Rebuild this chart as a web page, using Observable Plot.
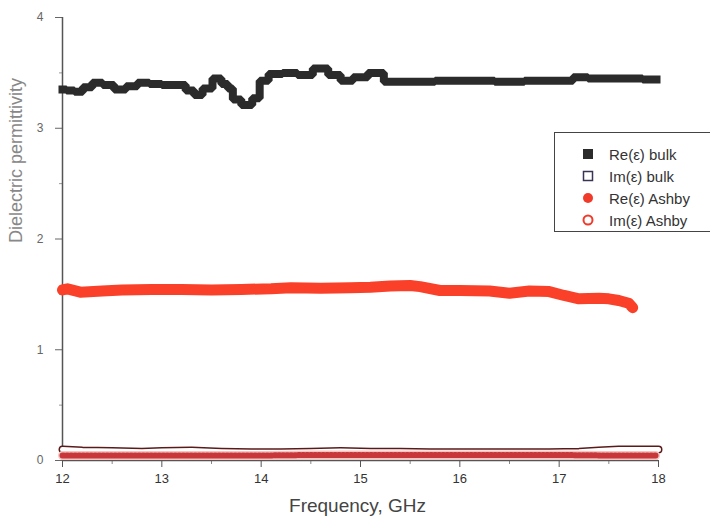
<!DOCTYPE html>
<html>
<head>
<meta charset="utf-8">
<script src="https://cdn.jsdelivr.net/npm/d3@7"></script>
<script src="https://cdn.jsdelivr.net/npm/@observablehq/plot@0.6"></script>
<style>
  html, body { margin: 0; padding: 0; background: #fff; overflow: hidden; }
  #wrap { position: relative; width: 710px; height: 524px; font-family: "Liberation Sans", Arial, sans-serif; overflow: hidden; }
  #legend { position: absolute; left: 554px; top: 132px; width: 156px; height: 100px; border: 1px solid #444; border-right: none; background: #fff; box-sizing: border-box; }
  .item { position: absolute; left: 26px; height: 18px; display: flex; align-items: center; font-size: 15px; color: #333; white-space: nowrap; }
  .item svg { margin-right: 14px; }
</style>
</head>
<body>
<div id="wrap"><div id="chart"></div><div id="legend"></div></div>
<script>
// Re(ε) bulk
const reBulkF = [12.00,12.08,12.16,12.25,12.35,12.46,12.58,12.70,12.81,12.94,13.06,13.19,13.29,13.36,13.46,13.56,13.64,13.69,13.74,13.86,13.96,14.01,14.14,14.29,14.44,14.60,14.75,14.85,15.00,15.15,15.32,15.60,15.90,16.20,16.50,16.80,17.10,17.18,17.40,17.70,17.98];
const reBulkV = [3.35,3.34,3.33,3.37,3.41,3.39,3.35,3.38,3.41,3.40,3.39,3.39,3.34,3.30,3.36,3.45,3.40,3.36,3.26,3.21,3.27,3.43,3.49,3.50,3.48,3.54,3.48,3.43,3.46,3.50,3.42,3.42,3.43,3.43,3.42,3.43,3.43,3.46,3.45,3.45,3.44];
// Re(ε) Ashby
const reAshF = [12.00,12.05,12.18,12.40,12.60,12.90,13.20,13.50,13.80,14.10,14.30,14.60,14.90,15.10,15.30,15.50,15.60,15.80,16.00,16.30,16.50,16.70,16.90,17.05,17.20,17.40,17.50,17.60,17.70,17.74];
const reAshV = [1.54,1.55,1.52,1.53,1.54,1.545,1.545,1.54,1.545,1.55,1.56,1.555,1.56,1.565,1.575,1.58,1.57,1.535,1.535,1.53,1.51,1.53,1.525,1.49,1.46,1.465,1.46,1.445,1.42,1.38];
// Im(ε) bulk
const imBulkF = [12.00,12.20,12.50,12.80,13.00,13.30,13.60,13.90,14.20,14.50,14.80,15.10,15.40,15.70,16.00,16.30,16.60,16.90,17.20,17.40,17.60,17.80,18.00];
const imBulkV = [0.10,0.09,0.085,0.08,0.085,0.09,0.08,0.075,0.075,0.08,0.085,0.08,0.08,0.075,0.075,0.075,0.075,0.075,0.08,0.09,0.10,0.10,0.10];
// Im(ε) Ashby
const imAshF = [12.00,12.50,13.00,13.50,14.00,14.50,15.00,15.50,16.00,16.50,17.00,17.50,17.97];
const imAshV = [0.045,0.045,0.045,0.045,0.045,0.05,0.05,0.05,0.05,0.05,0.05,0.045,0.045];

const xTicks = [12,13,14,15,16,17,18];
const xMinor = [12.5,13.5,14.5,15.5,16.5,17.5];
const yTicks = [0,1,2,3,4];
const yMinor = [0.5,1.5,2.5,3.5];

const zip = (F, V) => F.map((f, i) => ({f, v: V[i]}));
const reBulk = zip(reBulkF, reBulkV);
const reAsh = zip(reAshF, reAshV);
const imBulk = zip(imBulkF, imBulkV);
const imAsh = zip(imAshF, imAshV);

const chart = Plot.plot({
  width: 710, height: 524,
  marginLeft: 62, marginRight: 52, marginTop: 17, marginBottom: 64,
  style: {fontFamily: "Liberation Sans, Arial, sans-serif", background: "#fff"},
  x: {domain: [12, 18]},
  y: {domain: [0, 4]},
  marks: [
    Plot.axisX(xTicks, {tickSize: 7, tickPadding: 6, fontSize: 13, color: "#333", stroke: "#555", tickFormat: "d", label: null}),
    Plot.axisX(xMinor, {tickSize: 4, tickFormat: () => "", stroke: "#888", label: null}),
    Plot.axisY(yTicks, {tickSize: 7, tickPadding: 12, fontSize: 12, color: "#666", stroke: "#666", tickFormat: "d", label: null}),
    Plot.axisY(yMinor, {tickSize: 3, tickFormat: () => "", stroke: "#999", label: null}),
    Plot.ruleX([12], {stroke: "#555", strokeWidth: 1.5}),
    Plot.ruleY([0], {stroke: "#555", strokeWidth: 1.5}),
    // Im bulk: band of open squares
    Plot.line(imBulk, {x: "f", y: "v", stroke: "#5b1a1a", strokeWidth: 8}),
    Plot.line(imBulk, {x: "f", y: "v", stroke: "#fff", strokeWidth: 5}),
    // Im Ashby: band of open circles
    Plot.line(imAsh, {x: "f", y: "v", stroke: "#f5c4c0", strokeWidth: 9}),
    Plot.line(imAsh, {x: "f", y: "v", stroke: "#c8383a", strokeWidth: 6, strokeDasharray: "1.5,2.5"}),
    // Re bulk
    Plot.line(reBulk, {x: "f", y: "v", curve: "step", stroke: "#2b2b2b", strokeWidth: 8, strokeLinejoin: "miter", strokeLinecap: "square"}),
    // Re Ashby
    Plot.line(reAsh, {x: "f", y: "v", stroke: "#fa4028", strokeWidth: 11, strokeLinecap: "round"}),
    Plot.text(["Frequency, GHz"], {frameAnchor: "bottom", dx: -3, dy: 51, fontSize: 19, fill: "#444"}),
    Plot.text(["Dielectric permittivity"], {frameAnchor: "left", dx: -46, dy: 4, rotate: -90, fontSize: 18, fill: "#888"})
  ]
});
document.getElementById("chart").appendChild(chart);

// legend
const legendItems = [
  {label: "Re(ε) bulk", sym: '<rect x="2" y="2" width="10" height="10" fill="#2b2b2b"/>'},
  {label: "Im(ε) bulk", sym: '<rect x="2.5" y="2.5" width="9" height="9" fill="none" stroke="#3b3355" stroke-width="1.5"/>'},
  {label: "Re(ε) Ashby", sym: '<circle cx="7" cy="7" r="5" fill="#f03a2a"/>'},
  {label: "Im(ε) Ashby", sym: '<circle cx="7" cy="7" r="4.5" fill="none" stroke="#f03a2a" stroke-width="2"/>'}
];
const legend = document.getElementById("legend");
legendItems.forEach((d, i) => {
  const el = document.createElement("div");
  el.className = "item";
  el.style.top = (12 + i * 22) + "px";
  el.innerHTML = '<svg width="14" height="14">' + d.sym + '</svg><span>' + d.label + '</span>';
  legend.appendChild(el);
});
</script>
</body>
</html>
